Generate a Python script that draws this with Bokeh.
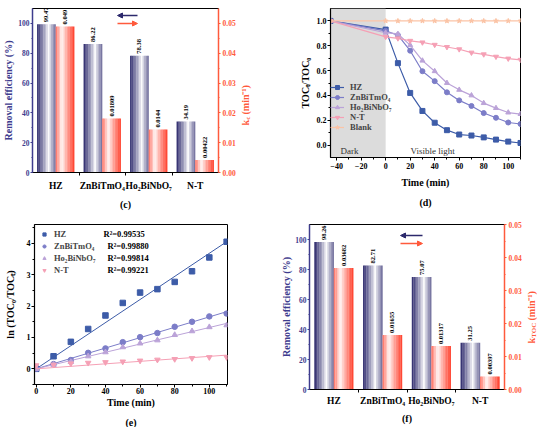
import numpy as np
from bokeh.plotting import figure
from bokeh.models import (Range1d, LinearAxis, FixedTicker, ColumnDataSource, Label,
                          Arrow, NormalHead, BoxAnnotation, Legend, LegendItem,
                          NumeralTickFormatter, Title)
from bokeh.layouts import column, row
from bokeh.embed import file_html
from bokeh.resources import INLINE
from bokeh.core.properties import value

# ---------------- data ----------------
categories = ["HZ", "ZnBiTmO₄", "Ho₂BiNbO₇", "N-T"]
removal_c = [99.47, 86.22, 78.38, 34.19]
kc_values = [0.049, 0.01809, 0.0144, 0.00422]
removal_f = [98.26, 82.71, 75.07, 31.25]
ktoc_values = [0.03682, 0.01655, 0.01317, 0.00397]

time_d = [-45, 0, 10, 20, 30, 40, 50, 60, 70, 80, 90, 100, 110]
hz_d = [1.0, 0.93, 0.66, 0.42, 0.275, 0.18, 0.12, 0.085, 0.077, 0.062, 0.044, 0.028, 0.017]
zn_d = [1.0, 0.92, 0.885, 0.76, 0.595, 0.515, 0.425, 0.36, 0.315, 0.258, 0.22, 0.182, 0.17]
ho_d = [1.0, 0.905, 0.895, 0.805, 0.68, 0.595, 0.50, 0.445, 0.40, 0.338, 0.298, 0.262, 0.25]
nt_d = [1.0, 0.872, 0.86, 0.84, 0.827, 0.808, 0.79, 0.772, 0.745, 0.731, 0.712, 0.697, 0.687]
blank_d = [1.0, 1.0, 1.0, 1.0, 1.0, 1.0, 1.0, 1.0, 1.0, 1.0, 1.0, 1.0, 1.0]

time_e = [0, 10, 20, 30, 40, 50, 60, 70, 80, 90, 100, 110]
hz_e = [0.0, 0.40, 0.86, 1.27, 1.70, 2.10, 2.43, 2.54, 2.77, 3.11, 3.55, 4.05]
zn_e = [0.0, 0.15, 0.28, 0.51, 0.65, 0.85, 1.01, 1.14, 1.34, 1.50, 1.67, 1.76]
ho_e = [0.0, 0.13, 0.22, 0.40, 0.53, 0.69, 0.81, 0.91, 1.08, 1.20, 1.33, 1.39]
nt_e = [0.11, 0.13, 0.17, 0.19, 0.21, 0.23, 0.26, 0.29, 0.31, 0.34, 0.37, 0.37]
r2_values = ["0.99535", "0.99880", "0.99814", "0.99221"]

# ---------------- style ----------------
SERIF = "Liberation Serif"
NAVY = (44, 41, 108)
REDC = (255, 62, 42)
NAVY_HEX = "#2c296c"
NAVY_AX = "#3E3C8E"
RED_AX = "#FF5A3C"
HZ_COL = "#3D5CA8"
ZN_COL = "#7C7DC8"
HO_COL = "#BBA3D8"
NT_COL = "#F5A0B5"
BL_COL = "#FBC4A6"
NS = 12


class Geo:
    """screen-pixel -> data conversion for a figure whose frame is fixed."""
    def __init__(self, ox, oy, fw, fh, l, t, xr, yr):
        self.L = ox + l
        self.R = ox + l + fw
        self.T = oy + t
        self.B = oy + t + fh
        self.xr = xr
        self.yr = yr

    def x(self, px):
        return self.xr[0] + (px - self.L) / (self.R - self.L) * (self.xr[1] - self.xr[0])

    def y(self, py):
        return self.yr[0] + (self.B - py) / (self.B - self.T) * (self.yr[1] - self.yr[0])


def make_fig(ox, oy, fw, fh, l, r, t, b, xr, yr):
    g = Geo(ox, oy, fw, fh, l, t, xr, yr)
    p = figure(frame_width=fw, frame_height=fh, x_range=Range1d(*xr), y_range=Range1d(*yr),
               output_backend="svg", toolbar_location=None,
               min_border_left=l, min_border_right=r, min_border_top=t, min_border_bottom=b)
    p.xgrid.visible = False
    p.ygrid.visible = False
    p.outline_line_color = "black"
    p.outline_line_alpha = 1.0
    p.outline_line_width = 1
    p.background_fill_color = "white"
    p.border_fill_color = "white"
    return p, g


def label_fig(ox, oy, w, h):
    g = Geo(ox, oy, w, h, 0, 0, (0, 1), (0, 1))
    p = figure(frame_width=w, frame_height=h, x_range=Range1d(0, 1), y_range=Range1d(0, 1),
               output_backend="svg", toolbar_location=None, x_axis_location=None,
               y_axis_location=None, min_border=0)
    p.xgrid.visible = False
    p.ygrid.visible = False
    p.outline_line_color = None
    p.background_fill_color = "white"
    p.border_fill_color = "white"
    return p, g


def style_axis(ax, color="black", tick_size="8px", tick_out=3, tick_in=0, std=2, lstd=2):
    ax.axis_line_color = color
    ax.axis_line_width = 1.2
    ax.major_tick_line_color = color
    ax.minor_tick_line_color = color
    ax.major_label_text_color = color
    ax.axis_label_text_color = color
    ax.major_label_text_font = SERIF
    ax.major_label_text_font_style = "bold"
    ax.major_label_text_font_size = tick_size
    ax.axis_label_text_font = SERIF
    ax.axis_label_text_font_style = "bold"
    ax.axis_label_text_font_size = "10px"
    ax.major_tick_out = tick_out
    ax.major_tick_in = tick_in
    ax.minor_tick_out = max(tick_out - 1, 0)
    ax.minor_tick_in = max(tick_in - 1, 0)
    ax.major_label_standoff = std
    ax.axis_label_standoff = lstd


def add_label(p, g, px, py, text, size="10px", color="black", angle=0.0, align="center",
              baseline="middle", bold=True):
    p.add_layout(Label(x=g.x(px), y=g.y(py), text=text, angle=angle, text_align=align,
                       text_baseline=baseline, text_font=SERIF,
                       text_font_style="bold" if bold else "normal",
                       text_font_size=size, text_color=color))


def add_caption(p, text, offset, standoff):
    p.add_layout(Title(text=text, align="center", offset=offset, standoff=standoff,
                       text_font=SERIF, text_font_style="bold", text_font_size="10px",
                       text_color="black"), "below")


def vertical_k_label(p, g, px, py_bottom, sub, sub_w):
    add_label(p, g, px, py_bottom, "k", "10px", RED_AX, np.pi / 2, "left")
    add_label(p, g, px + 2.5, py_bottom - 5.8, sub, "7px", RED_AX, np.pi / 2, "left")
    add_label(p, g, px, py_bottom - 5.8 - sub_w - 2.0, "(min⁻¹)", "10px", RED_AX,
              np.pi / 2, "left")


def grad(base, white_pos, left_amt, right_amt, n):
    cols = []
    for k in range(n):
        t = (k + 0.5) / n
        if t < white_pos:
            f = left_amt * ((white_pos - t) / white_pos) ** 0.85
        else:
            f = right_amt * ((t - white_pos) / (1 - white_pos)) ** 0.85
        rgb = [int(round(255 - f * (255 - c))) for c in base]
        cols.append("#%02x%02x%02x" % tuple(rgb))
    return cols


def slice_source(vals, offset, bw, colors):
    xs, tops, cs = [], [], []
    for i, v in enumerate(vals):
        for k in range(NS):
            xs.append(i + offset - bw / 2 + (k + 0.5) * bw / NS)
            tops.append(v)
            cs.append(colors[k])
    return ColumnDataSource(dict(x=xs, top=tops, color=cs))


def bar_panel(ox, oy, fw, fh, l, r, t, b, eff, kv, kmax, caption, cap_off, cap_std,
              arrow_x, arrow_y, ylab_std, xlab_std, tick_std):
    p, g = make_fig(ox, oy, fw, fh, l, r, t, b, (-0.5, 3.5), (0, 110))
    p.extra_y_ranges = {"k": Range1d(0, kmax)}
    idx = list(range(len(categories)))
    bw = 0.4
    src_b = slice_source(eff, -0.2, bw, grad(NAVY, 0.62, 1.0, 0.7, NS))
    src_r = slice_source(kv, 0.2, bw, grad(REDC, 0.33, 0.75, 1.0, NS))
    p.vbar(x="x", top="top", bottom=0, width=bw / NS * 1.12, fill_color="color",
           line_color=None, source=src_b)
    p.vbar(x="x", top="top", bottom=0, width=bw / NS * 1.12, fill_color="color",
           line_color=None, source=src_r, y_range_name="k")
    common = dict(angle=np.pi / 2, text_align="left", text_baseline="middle",
                  text_font=value(SERIF), text_font_style="bold", text_font_size="6.5px",
                  text_color="black", y_offset=-2)
    p.text(x=[i - 0.2 for i in idx], y=eff, text=[str(v) for v in eff], **common)
    p.text(x=[i + 0.2 for i in idx], y=kv, text=[str(v) for v in kv], y_range_name="k", **common)

    xa = p.xaxis[0]
    xa.ticker = FixedTicker(ticks=idx, minor_ticks=[i + 0.5 for i in idx[:-1]])
    xa.major_label_overrides = {i: c for i, c in zip(idx, categories)}
    style_axis(xa, "black", "9.5px", tick_out=0, std=xlab_std)
    xa.major_tick_line_color = None
    xa.minor_tick_out = 3

    ya = p.yaxis[0]
    ya.ticker = FixedTicker(ticks=[0, 20, 40, 60, 80, 100], minor_ticks=[10, 30, 50, 70, 90])
    ya.axis_label = "Removal efficiency (%)"
    style_axis(ya, NAVY_AX, "7.5px", tick_out=2, std=tick_std, lstd=ylab_std)
    ya.axis_line_width = 1.5

    ra = LinearAxis(y_range_name="k",
                    ticker=FixedTicker(ticks=[0.0, 0.01, 0.02, 0.03, 0.04, 0.05],
                                       minor_ticks=[0.005, 0.015, 0.025, 0.035, 0.045]),
                    formatter=NumeralTickFormatter(format="0.00"))
    style_axis(ra, RED_AX, "7.5px", tick_out=2, std=2)
    ra.axis_line_width = 1.5
    p.add_layout(ra, "right")

    # direction arrows (which bars belong to which axis)
    p.add_layout(Arrow(end=NormalHead(size=5, fill_color=NAVY_HEX, line_color=NAVY_HEX),
                       x_start=g.x(arrow_x[1]), y_start=g.y(arrow_y[0]),
                       x_end=g.x(arrow_x[0]), y_end=g.y(arrow_y[0]),
                       line_color=NAVY_HEX, line_width=1.5))
    p.add_layout(Arrow(end=NormalHead(size=5, fill_color=RED_AX, line_color=RED_AX),
                       x_start=g.x(arrow_x[0]), y_start=g.y(arrow_y[1]),
                       x_end=g.x(arrow_x[1]), y_end=g.y(arrow_y[1]),
                       line_color=RED_AX, line_width=1.5))
    add_caption(p, caption, cap_off, cap_std)
    return p


# rows: top row starts at screen y 0 (observed), bottom row at y 214
ROW2 = 214
# ---------------- panel (c) + its right-axis label strip ----------------
pc = bar_panel(8, 0, 186, 164, 29, 22, 8, 42, removal_c, kc_values, 0.055,
               "(c)", -3, 7, (122, 142), (15, 23), 1, 5, 1)
lc, glc = label_fig(245, 0, 32, ROW2)
vertical_k_label(lc, glc, 250, 117, "c", 3.2)

# ---------------- panel (d) ----------------
pd_, gd = make_fig(277, 0, 190, 149, 58, 17, 8, 57, (-45, 110), (-0.1, 1.1))
pd_.add_layout(BoxAnnotation(right=0, fill_color="#DCDCDC", fill_alpha=1.0,
                             line_color=None, level="underlay"))
series_d = [("HZ", hz_d, HZ_COL, "square"),
            ("ZnBiTmO₄", zn_d, ZN_COL, "circle"),
            ("Ho₂BiNbO₇", ho_d, HO_COL, "triangle"),
            ("N-T", nt_d, NT_COL, "inverted_triangle"),
            ("Blank", blank_d, BL_COL, "star")]
items_d = []
for name, vals, col, mk in series_d:
    r1 = pd_.line(time_d, vals, line_color=col, line_width=1.2)
    r2 = pd_.scatter(time_d, vals, marker=mk, size=5, fill_color=col, line_color=col)
    items_d.append(LegendItem(label=name, renderers=[r1, r2]))
leg_d = Legend(items=items_d, location=(0, 25), background_fill_alpha=0,
               border_line_color=None, padding=0, margin=0, spacing=0,
               label_height=10, glyph_height=10, glyph_width=14, label_standoff=6,
               label_text_font=SERIF, label_text_font_style="bold",
               label_text_font_size="8.5px")
pd_.add_layout(leg_d)
xa = pd_.xaxis[0]
xa.ticker = FixedTicker(ticks=[-40, -20, 0, 20, 40, 60, 80, 100],
                        minor_ticks=[-30, -10, 10, 30, 50, 70, 90, 110])
xa.axis_label = "Time (min)"
style_axis(xa, "black", "8px", tick_out=3, std=2, lstd=5)
ya = pd_.yaxis[0]
ya.ticker = FixedTicker(ticks=[0.0, 0.2, 0.4, 0.6, 0.8, 1.0],
                        minor_ticks=[0.1, 0.3, 0.5, 0.7, 0.9])
ya.formatter = NumeralTickFormatter(format="0.0")
ya.axis_label = "TOCₜ/TOC₀"
style_axis(ya, "black", "8px", tick_out=3, std=1, lstd=3)
add_label(pd_, gd, 345, 150, "Dark", "9px", "#333333", align="left", bold=False)
add_label(pd_, gd, 415, 150, "Visible light", "9px", "#333333", align="left", bold=False)
add_caption(pd_, "(d)", -28, 8)

# ---------------- panel (e) ----------------
pe, ge = make_fig(8, ROW2, 193, 160, 34, 42, 5, 48, (-1, 110.5), (-0.5, 4.6))
series_e = [("HZ", hz_e, HZ_COL, "square", ktoc_values[0]),
            ("ZnBiTmO₄", zn_e, ZN_COL, "circle", ktoc_values[1]),
            ("Ho₂BiNbO₇", ho_e, HO_COL, "triangle", ktoc_values[2]),
            ("N-T", nt_e, NT_COL, "inverted_triangle", ktoc_values[3])]
items_e = []
fit_x = [time_e[0], time_e[-1]]
for name, vals, col, mk, kval in series_e:
    pe.line(fit_x, [kval * x for x in fit_x], line_color=col, line_width=1)
    r = pe.scatter(time_e, vals, marker=mk, size=5.5, fill_color=col, line_color=col)
    items_e.append(LegendItem(label=name, renderers=[r]))
leg_e = Legend(items=items_e, location=(6, 108), background_fill_alpha=0,
               border_line_color=None, padding=0, margin=0, spacing=0,
               label_height=12, glyph_height=12, glyph_width=8, label_standoff=6,
               label_text_font=SERIF, label_text_font_style="bold",
               label_text_font_size="8.5px")
pe.add_layout(leg_e)
for rv, ry, rx in zip(r2_values, [228.5, 240.5, 252.5, 264.5], [111, 115, 115, 115]):
    add_label(pe, ge, rx, ry, "R²=" + rv, "8.5px", align="left")
xa = pe.xaxis[0]
xa.ticker = FixedTicker(ticks=[0, 20, 40, 60, 80, 100], minor_ticks=[10, 30, 50, 70, 90, 110])
xa.axis_label = "Time (min)"
style_axis(xa, "black", "8px", tick_out=3, std=0, lstd=0)
ya = pe.yaxis[0]
ya.ticker = FixedTicker(ticks=[0, 1, 2, 3, 4], minor_ticks=[-0.5, 0.5, 1.5, 2.5, 3.5, 4.5])
ya.axis_label = "ln (TOC₀/TOCₜ)"
style_axis(ya, "black", "8px", tick_out=3, std=1, lstd=8)
add_caption(pe, "(e)", -11, 8)

# ---------------- panel (f) + its right-axis label strip ----------------
pf = bar_panel(277, ROW2, 195, 165, 40, 17, 10, 38, removal_f, ktoc_values, 0.05,
               "(f)", -12, 4, (408, 430), (235, 243), 0, 3, 1)
lf, glf = label_fig(529, ROW2, 13, 213)
vertical_k_label(lf, glf, 536, 333, "TOC", 15.2)

layout = column(row(pc, lc, pd_), row(pe, pf, lf))
open("out.html", "w").write(file_html(layout, INLINE))
